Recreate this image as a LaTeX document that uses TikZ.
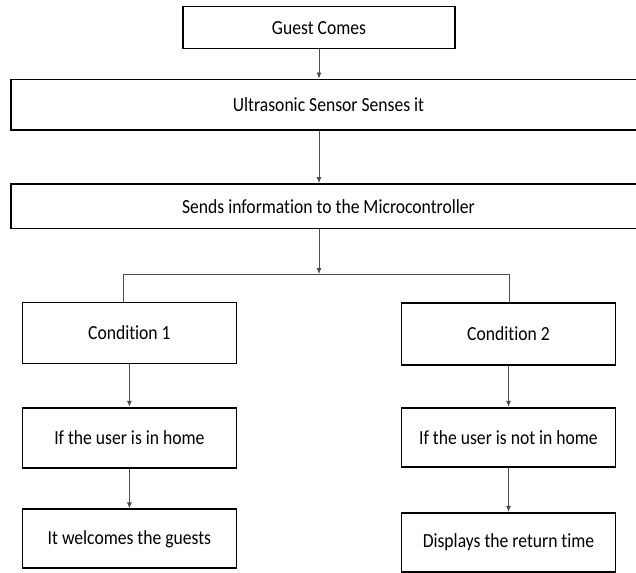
\documentclass[tikz,border=0pt]{standalone}
\usepackage{fontspec}
\setmainfont{Carlito}[FakeStretch=0.88,Ligatures={NoCommon}]
\usetikzlibrary{arrows.meta}
\begin{document}
\begin{tikzpicture}[x=1pt,y=-1pt,
  stepbox/.style={draw=black, line width=1.8pt, fill=white, inner sep=0pt,
    font=\fontsize{20}{24}\selectfont},
  link/.style={draw=black!70, line width=0.8pt},
  arr/.style={link, -{Latex[length=6pt,width=5pt]}}]
\useasboundingbox (0,0) rectangle (636,572);
\node[stepbox,minimum width=272pt,minimum height=42pt] (guest) at (319,27.6) {Guest Comes};
\node[stepbox,minimum width=635pt,minimum height=50.5pt] (ultra) at (328.5,104.7) {Ultrasonic Sensor Senses it};
\node[stepbox,minimum width=635pt,minimum height=44.5pt] (sends) at (328.5,206.2) {Sends information to the Microcontroller};
\node[stepbox,minimum width=214pt,minimum height=61pt] (c1) at (129.4,333) {Condition 1};
\node[stepbox,minimum width=214pt,minimum height=62pt] (c2) at (508.5,333.8) {Condition 2};
\node[stepbox,minimum width=214pt,minimum height=60pt] (h1) at (129.4,437.7) {If the user is in home};
\node[stepbox,minimum width=214pt,minimum height=59pt] (h2) at (508.5,437.2) {If the user is not in home};
\node[stepbox,minimum width=214pt,minimum height=59pt] (r1) at (129.4,538.8) {It welcomes the guests};
\node[stepbox,minimum width=214pt,minimum height=59pt] (r2) at (508.5,542.2) {Displays the return time};
\coordinate (mx) at (319,0);
\coordinate (jn) at (319,274);
\coordinate (jl) at (123.7,274);
\coordinate (jr) at (509,274);
\draw[arr] (guest.south) -- (mx |- ultra.north);
\draw[arr] (mx |- ultra.south) -- (mx |- sends.north);
\draw[arr] (mx |- sends.south) -- (jn);
\draw[link] (jl |- c1.north) -- (jl) -- (jr) -- (jr |- c2.north);
\draw[arr] (c1.south) -- (h1.north);
\draw[arr] (h1.south) -- (r1.north);
\draw[arr] (c2.south) -- (h2.north);
\draw[arr] (h2.south) -- (r2.north);
\end{tikzpicture}
\end{document}
